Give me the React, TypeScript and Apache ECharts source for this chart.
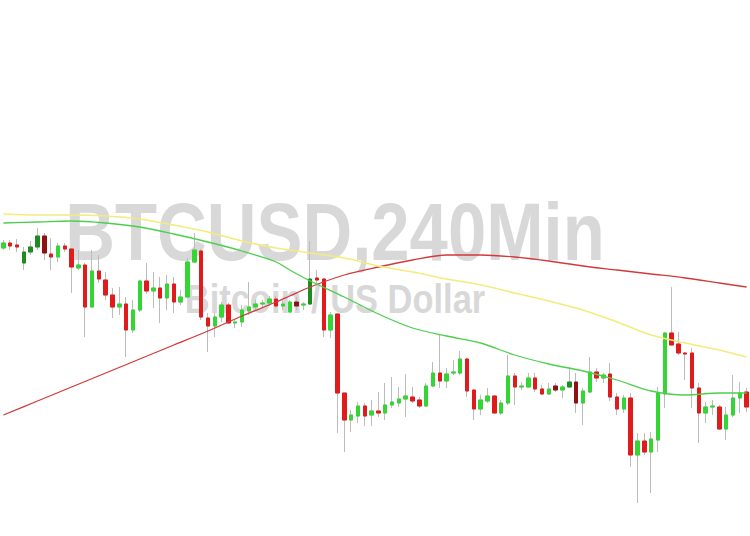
import React, { useEffect, useRef } from "react";
import * as echarts from "echarts";

// Candles: [open, close, low, high] (hidden price scale)
const ohlc: number[][] = [
  [292, 297, 290, 300], [297, 294, 290, 300], [295, 293, 288, 301], [277, 288, 270, 293],
  [288, 293, 285, 299], [293, 304, 290, 312], [304, 287, 280, 307], [286, 283, 270, 302],
  [283, 294, 278, 297], [294, 291, 288, 297], [291, 273, 247, 292], [272, 275, 270, 290],
  [275, 233, 203, 277], [233, 269, 233, 290], [269, 261, 257, 285], [260, 245, 240, 268],
  [245, 233, 222, 252], [233, 236, 225, 253], [236, 210, 183, 243], [210, 230, 207, 240],
  [230, 259, 228, 260], [259, 249, 246, 277], [249, 252, 232, 268], [252, 242, 217, 263],
  [242, 256, 230, 265], [256, 238, 227, 263], [238, 243, 235, 250], [243, 278, 242, 282],
  [278, 290, 277, 307], [289, 223, 220, 291], [222, 214, 188, 227], [214, 223, 203, 227],
  [223, 235, 218, 238], [235, 217, 217, 237], [217, 218, 212, 220], [218, 230, 213, 235],
  [229, 233, 225, 258], [233, 236, 230, 240], [236, 237, 233, 240], [237, 241, 234, 244],
  [241, 234, 232, 244], [234, 236, 230, 240], [228, 238, 227, 240], [238, 234, 230, 243],
  [235, 236, 230, 238], [236, 261, 235, 299], [262, 260, 257, 270], [261, 210, 203, 262],
  [210, 225, 202, 228], [226, 147, 107, 227], [147, 120, 88, 147], [120, 125, 108, 130],
  [124, 134, 117, 138], [134, 124, 114, 137], [125, 129, 114, 140], [129, 127, 123, 148],
  [127, 135, 120, 157], [135, 138, 132, 163], [137, 141, 133, 153], [141, 144, 123, 166],
  [143, 139, 137, 153], [140, 134, 132, 143], [134, 154, 133, 157], [154, 167, 153, 178],
  [167, 159, 152, 205], [159, 166, 152, 172], [167, 168, 165, 180], [167, 181, 165, 189],
  [181, 149, 143, 182], [150, 131, 120, 150], [131, 140, 125, 145], [139, 144, 137, 152],
  [144, 127, 127, 145], [127, 137, 125, 140], [137, 164, 135, 185], [164, 153, 135, 167],
  [153, 154, 150, 158], [153, 162, 152, 167], [162, 151, 148, 167], [151, 146, 145, 155],
  [146, 151, 145, 157], [154, 150, 148, 157], [150, 153, 142, 155], [153, 158, 152, 173],
  [158, 137, 127, 167], [137, 149, 115, 152], [148, 168, 147, 183], [168, 162, 158, 172],
  [162, 165, 157, 167], [166, 143, 139, 177], [143, 131, 125, 147], [131, 142, 127, 145],
  [142, 85, 73, 147], [85, 99, 37, 107], [99, 88, 85, 107], [88, 101, 47, 108],
  [100, 147, 88, 153], [146, 207, 132, 208], [207, 195, 195, 253], [196, 187, 185, 208],
  [187, 186, 160, 188], [187, 152, 132, 192], [152, 127, 97, 157], [127, 133, 117, 138],
  [133, 134, 125, 140], [133, 111, 110, 135], [111, 125, 100, 133], [125, 142, 123, 165],
  [142, 147, 127, 158], [148, 133, 128, 152],
];

const darkCandles = [3, 4, 5, 6, 43, 45, 81, 83, 84];

// Moving averages, read at sampled bars
const maIdx = [0, 5, 10, 15, 20, 25, 30, 35, 40, 42, 45, 50, 55, 60, 65, 70, 75, 80, 85, 90, 95, 100, 105, 109];
const maYellow = [326, 325, 325, 324, 321, 315, 308, 299, 292, 290, 287, 282, 274, 268, 261, 255, 247, 239, 230, 218, 205, 197, 190, 183];
const maGreen = [317, 318, 319, 317, 313, 306, 298, 289, 278, 270, 259, 243, 226, 212, 204, 197, 185, 176, 169, 160, 149, 145, 147, 147];
const maRed = [125, 139, 153, 167, 181, 195, 209, 224, 238, 244, 253, 265, 273, 280, 285, 285, 283, 279, 274, 270, 266, 262, 257, 253];

const categories = ohlc.map((_, i) => String(i + 1));

const BULL = "#33d633";
const BEAR = "#e01b1b";
const DARK_BULL = "#1f8c1f";
const DARK_BEAR = "#8e1212";
const WICK = "#bcbcbc";

function maSeries(vals: number[]) {
  const arr: (number | null)[] = categories.map(() => null);
  maIdx.forEach((idx, k) => (arr[idx] = vals[k]));
  return arr;
}

export default function App() {
  const ref = useRef<HTMLDivElement>(null);
  useEffect(() => {
    document.body.style.margin = "0";
    const chart = echarts.init(ref.current!, null, { renderer: "svg" });
    const bodies = ohlc.map((d, i) => {
      const item: any = {
        value: [d[0], d[1], Math.min(d[0], d[1]), Math.max(d[0], d[1])],
      };
      if (darkCandles.includes(i)) {
        const c = d[1] >= d[0] ? DARK_BULL : DARK_BEAR;
        item.itemStyle = { color: c, color0: c, borderColor: c, borderColor0: c };
      }
      return item;
    });
    chart.setOption({
      animation: false,
      backgroundColor: "#ffffff",
      grid: { left: -4.45, right: -4.55, top: 0, bottom: 0 },
      xAxis: { type: "category", data: categories, show: false, boundaryGap: true },
      yAxis: { type: "value", min: 4, max: 540, show: false, splitLine: { show: false } },
      graphic: [
        {
          type: "text",
          x: 335,
          y: 231,
          scaleX: 0.84,
          z: 0,
          silent: true,
          style: {
            text: "BTCUSD,240Min",
            font: 'bold 82px "Liberation Sans", Arial, sans-serif',
            fill: "#d8d8d8",
            textAlign: "center",
            textVerticalAlign: "middle",
          },
        },
        {
          type: "text",
          x: 335,
          y: 299,
          scaleX: 0.84,
          z: 0,
          silent: true,
          style: {
            text: "Bitcoin / US Dollar",
            font: 'bold 41px "Liberation Sans", Arial, sans-serif',
            fill: "#d8d8d8",
            textAlign: "center",
            textVerticalAlign: "middle",
          },
        },
      ],
      series: [
        {
          type: "candlestick",
          data: ohlc,
          barWidth: 4,
          z: 2,
          itemStyle: {
            color: "transparent",
            color0: "transparent",
            borderColor: WICK,
            borderColor0: WICK,
            borderWidth: 1,
          },
        },
        {
          type: "candlestick",
          data: bodies,
          barWidth: 4,
          z: 3,
          itemStyle: {
            color: BULL,
            color0: BEAR,
            borderColor: BULL,
            borderColor0: BEAR,
            borderWidth: 1,
          },
        },
        {
          type: "line",
          data: maSeries(maRed),
          connectNulls: true,
          smooth: 0.3,
          showSymbol: false,
          z: 5,
          lineStyle: { color: "#d23a3a", width: 1.3 },
        },
        {
          type: "line",
          data: maSeries(maYellow),
          connectNulls: true,
          smooth: 0.3,
          showSymbol: false,
          z: 5,
          lineStyle: { color: "#f3ec7c", width: 1.5 },
        },
        {
          type: "line",
          data: maSeries(maGreen),
          connectNulls: true,
          smooth: 0.3,
          showSymbol: false,
          z: 5,
          lineStyle: { color: "#4ccf4c", width: 1.3 },
        },
      ],
    });
    return () => chart.dispose();
  }, []);
  return <div ref={ref} style={{ width: 750, height: 536 }} />;
}
